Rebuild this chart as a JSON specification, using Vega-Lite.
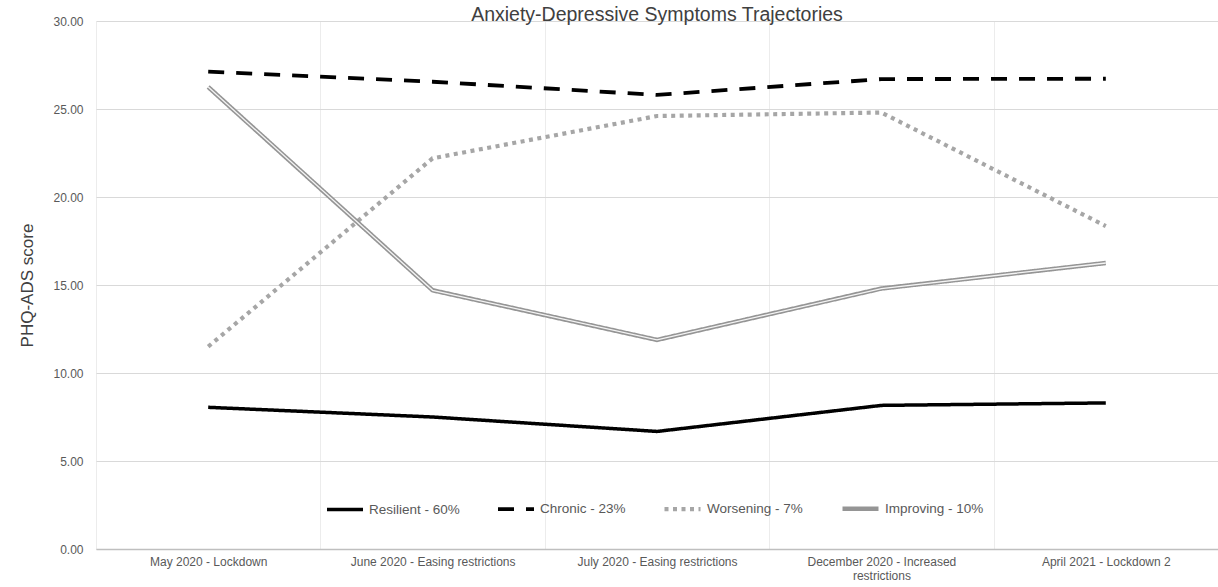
{
  "$schema": "https://vega.github.io/schema/vega-lite/v6.json",
  "autosize": {"type": "none"},
  "padding": {"left": 96, "top": 21, "right": 0, "bottom": 38},
  "width": 1122,
  "height": 528,
  "background": "white",
  "title": {
    "text": "Anxiety-Depressive Symptoms Trajectories",
    "font": "Liberation Sans",
    "fontSize": 19.5,
    "fontWeight": "normal",
    "color": "#404040",
    "anchor": "middle",
    "offset": -10
  },
  "config": {
    "view": {"stroke": null},
    "font": "Liberation Sans",
    "axis": {
      "labelFont": "Liberation Sans",
      "titleFont": "Liberation Sans",
      "labelColor": "#595959",
      "titleColor": "#404040",
      "titleFontWeight": "normal"
    }
  },
  "data": {
    "values": [
      {"time": "May 2020 - Lockdown", "group": "Resilient - 60%", "score": 8.05},
      {"time": "June 2020 - Easing restrictions", "group": "Resilient - 60%", "score": 7.5},
      {"time": "July 2020 - Easing restrictions", "group": "Resilient - 60%", "score": 6.68},
      {"time": "December 2020 - Increased restrictions", "group": "Resilient - 60%", "score": 8.16},
      {"time": "April 2021 - Lockdown 2", "group": "Resilient - 60%", "score": 8.3},
      {"time": "May 2020 - Lockdown", "group": "Chronic - 23%", "score": 27.12},
      {"time": "June 2020 - Easing restrictions", "group": "Chronic - 23%", "score": 26.55},
      {"time": "July 2020 - Easing restrictions", "group": "Chronic - 23%", "score": 25.8},
      {"time": "December 2020 - Increased restrictions", "group": "Chronic - 23%", "score": 26.7},
      {"time": "April 2021 - Lockdown 2", "group": "Chronic - 23%", "score": 26.72},
      {"time": "May 2020 - Lockdown", "group": "Worsening - 7%", "score": 11.5},
      {"time": "June 2020 - Easing restrictions", "group": "Worsening - 7%", "score": 22.2},
      {"time": "July 2020 - Easing restrictions", "group": "Worsening - 7%", "score": 24.6},
      {"time": "December 2020 - Increased restrictions", "group": "Worsening - 7%", "score": 24.8},
      {"time": "April 2021 - Lockdown 2", "group": "Worsening - 7%", "score": 18.35},
      {"time": "May 2020 - Lockdown", "group": "Improving - 10%", "score": 26.25},
      {"time": "June 2020 - Easing restrictions", "group": "Improving - 10%", "score": 14.7},
      {"time": "July 2020 - Easing restrictions", "group": "Improving - 10%", "score": 11.88},
      {"time": "December 2020 - Increased restrictions", "group": "Improving - 10%", "score": 14.8},
      {"time": "April 2021 - Lockdown 2", "group": "Improving - 10%", "score": 16.25}
    ]
  },
  "encoding": {
    "x": {
      "field": "time",
      "type": "nominal",
      "sort": null,
      "bandPosition": 0.5,
      "scale": {"type": "band", "paddingInner": 0, "paddingOuter": 0},
      "axis": {
        "title": null,
        "labelAngle": 0,
        "labelFontSize": 12,
        "labelPadding": 7,
        "labelLineHeight": 14,
        "labelLimit": 400,
        "labelExpr": "datum.value == 'December 2020 - Increased restrictions' ? ['December 2020 - Increased', 'restrictions'] : datum.label",
        "ticks": false,
        "tickBand": "extent",
        "grid": true,
        "gridColor": "#ececec",
        "gridWidth": 1,
        "domain": true,
        "domainColor": "#bfbfbf",
        "domainWidth": 1.5,
        "zindex": 0
      }
    },
    "y": {
      "field": "score",
      "type": "quantitative",
      "scale": {"domain": [0, 30], "nice": false, "zero": true},
      "axis": {
        "title": "PHQ-ADS score",
        "titleFontSize": 17,
        "titlePadding": 16,
        "labelFontSize": 12,
        "labelPadding": 13,
        "format": ".2f",
        "values": [0, 5, 10, 15, 20, 25, 30],
        "ticks": false,
        "domain": false,
        "grid": true,
        "gridColor": "#d9d9d9",
        "gridWidth": 1
      }
    }
  },
  "layer": [
    {
      "mark": {"type": "line", "strokeCap": "butt", "strokeJoin": "miter"},
      "encoding": {
        "detail": {"field": "group"},
        "color": {
          "field": "group",
          "type": "ordinal",
          "scale": {
            "domain": ["Resilient - 60%", "Chronic - 23%", "Worsening - 7%", "Improving - 10%"],
            "range": ["#000000", "#000000", "#a6a6a6", "#959595"]
          },
          "legend": {
            "title": null,
            "orient": "none",
            "legendX": 229,
            "legendY": 467,
            "direction": "horizontal",
            "symbolType": "stroke",
            "symbolSize": 1296,
            "labelFont": "Liberation Sans",
            "labelFontSize": 13.5,
            "labelColor": "#595959",
            "labelOffset": 4,
            "columnPadding": 30,
            "padding": 0
          }
        },
        "strokeDash": {
          "field": "group",
          "type": "ordinal",
          "scale": {
            "domain": ["Resilient - 60%", "Chronic - 23%", "Worsening - 7%", "Improving - 10%"],
            "range": [[1, 0], [16, 12], [4, 4.5], [1, 0]]
          }
        },
        "strokeWidth": {
          "field": "group",
          "type": "ordinal",
          "scale": {
            "domain": ["Resilient - 60%", "Chronic - 23%", "Worsening - 7%", "Improving - 10%"],
            "range": [3.5, 4.5, 3.5, 4.5]
          }
        }
      }
    },
    {
      "transform": [{"filter": "datum.group == 'Improving - 10%'"}],
      "mark": {"type": "line", "color": "#f4f4f4", "strokeWidth": 1.3, "strokeJoin": "miter"},
      "encoding": {}
    }
  ]
}
